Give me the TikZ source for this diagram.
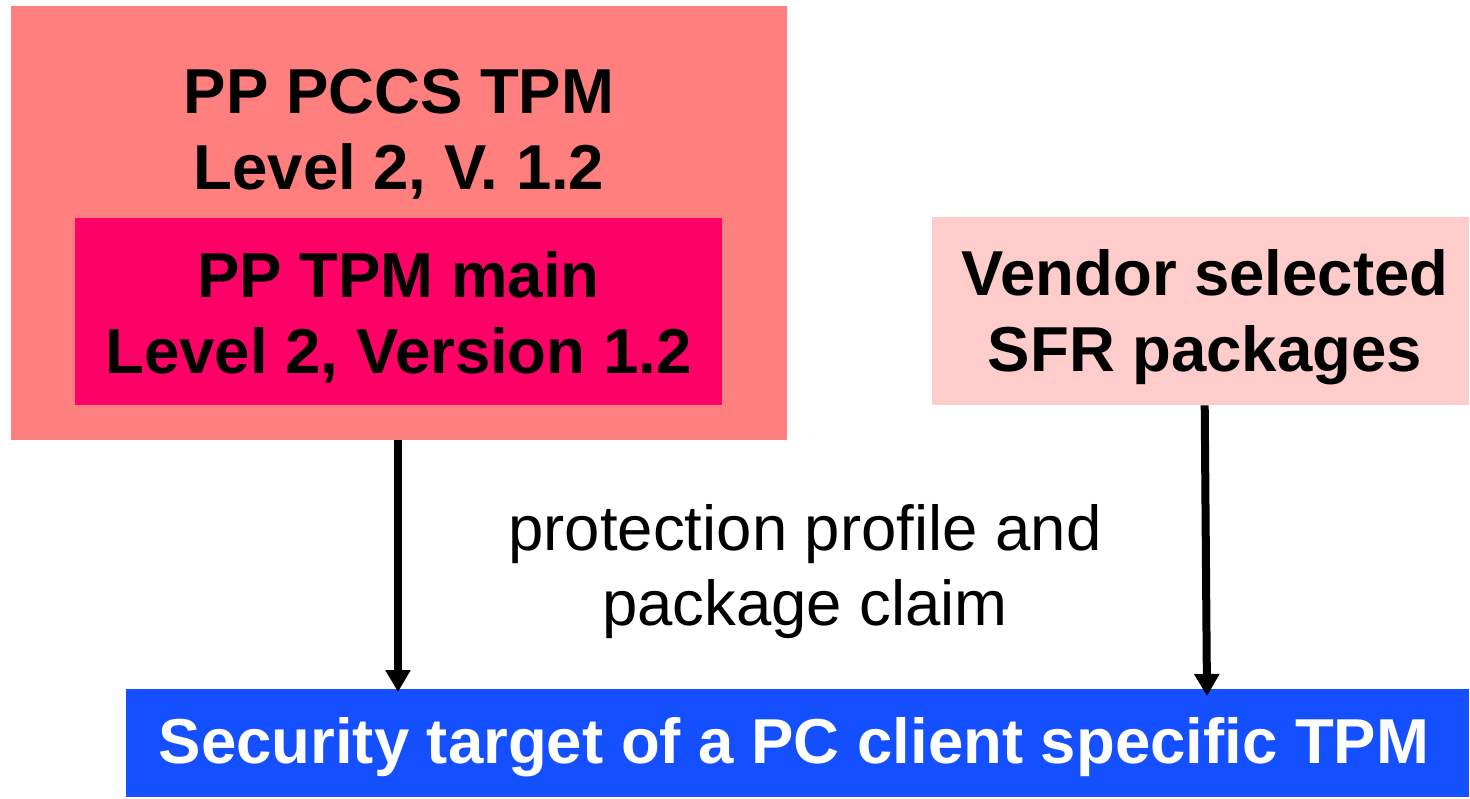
\documentclass[tikz,border=0pt]{standalone}
\usepackage{fontspec}
\setmainfont{Liberation Sans}
\usetikzlibrary{arrows.meta}
\definecolor{ppouter}{HTML}{FF7F7F}
\definecolor{ppinner}{HTML}{FF0066}
\definecolor{vendorpink}{HTML}{FFCCCC}
\definecolor{stblue}{HTML}{1450FF}
\tikzset{
  box/.style={draw=none, inner sep=0pt, anchor=north west},
  label/.style={inner sep=0pt, align=center, font=\fontsize{63.5}{76}\selectfont\bfseries},
  note/.style={inner sep=0pt, align=center, font=\fontsize{63.5}{75}\selectfont},
  claim/.style={line width=8pt, -{Triangle[width=24pt,length=22pt]}}
}
\begin{document}
\begin{tikzpicture}[x=1pt,y=-1pt]
\useasboundingbox (0,0) rectangle (1470,798);
% profile boxes
\node[box, fill=ppouter, minimum width=776pt, minimum height=434pt] (outer) at (11,6) {};
\node[box, fill=ppinner, minimum width=647pt, minimum height=187pt] (inner) at (75,218) {};
\node[box, fill=vendorpink, minimum width=537pt, minimum height=188pt] (vendor) at (932,217) {};
\node[box, fill=stblue, minimum width=1343pt, minimum height=108pt] (target) at (126,689) {};
% texts
\node[label] (outert) at (399,134) {PP PCCS TPM\\Level 2, V. 1.2};
\node[label] (innert) at (398.5,317) {PP TPM main\\Level 2, Version 1.2};
\node[label] (vendort) at (1205,317) {Vendor selected\\SFR packages};
\node[label, text=white] (targett) at (794,747) {Security target of a PC client specific TPM};
\node[note] (claimt) at (805,572) {protection profile and\\package claim};
% connectors
\coordinate (a1) at (398,692);
\coordinate (a2) at (1207,696);
\draw[claim] (outer.south -| a1) -- (a1);
\draw[claim] ([xshift=4pt]vendor.south) -- (a2);
\end{tikzpicture}
\end{document}
